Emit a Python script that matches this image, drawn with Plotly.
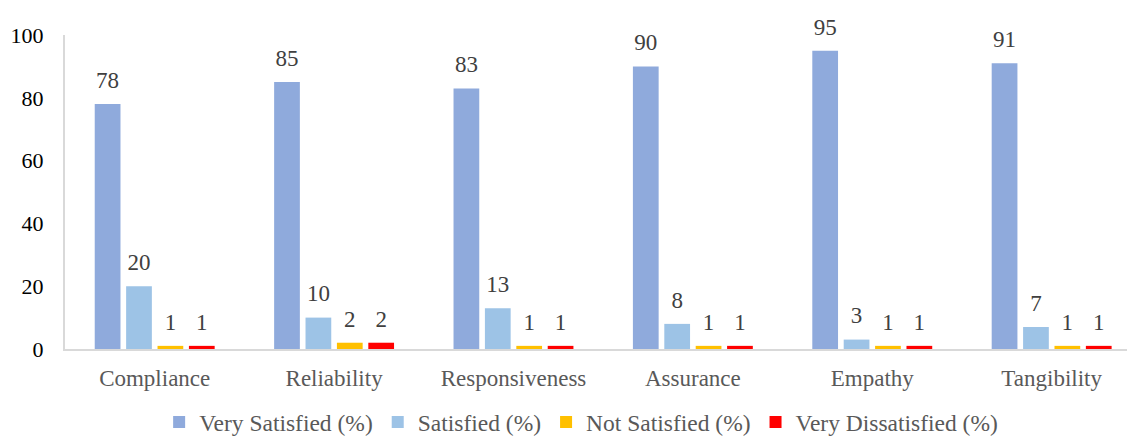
import plotly.graph_objects as go

categories = ["Compliance", "Reliability", "Responsiveness", "Assurance", "Empathy", "Tangibility"]
very_satisfied = [78, 85, 83, 90, 95, 91]
satisfied = [20, 10, 13, 8, 3, 7]
not_satisfied = [1, 2, 1, 1, 1, 1]
very_dissatisfied = [1, 2, 1, 1, 1, 1]

series = [
    ("Very Satisfied (%)", very_satisfied, "#8FAADC"),
    ("Satisfied (%)", satisfied, "#9DC3E6"),
    ("Not Satisfied (%)", not_satisfied, "#FFC000"),
    ("Very Dissatisfied (%)", very_dissatisfied, "#FF0000"),
]

FONT = "Liberation Serif"

fig = go.Figure()
for i, (name, vals, color) in enumerate(series):
    grp = str(i)
    fig.add_trace(go.Bar(
        name=name,
        x=categories,
        y=vals,
        offsetgroup=grp,
        alignmentgroup="all",
        marker=dict(color=color, line=dict(width=0)),
    ))
    # value labels: a transparent marker on each bar top lifts the text above it
    fig.add_trace(go.Scatter(
        x=categories,
        y=vals,
        offsetgroup=grp,
        alignmentgroup="all",
        mode="markers+text",
        marker=dict(size=15, color="rgba(0,0,0,0)"),
        text=[str(v) for v in vals],
        textposition="top center",
        textfont=dict(family=FONT, size=23, color="#404040"),
        cliponaxis=False,
        showlegend=False,
        hoverinfo="skip",
    ))

fig.update_layout(
    width=1129,
    height=439,
    margin=dict(l=65, r=2, t=35, b=90),
    paper_bgcolor="white",
    plot_bgcolor="white",
    barmode="group",
    scattermode="group",
    bargap=0.3,
    bargroupgap=0.18,
    font=dict(family=FONT, size=22, color="#595959"),
    showlegend=True,
    legend=dict(
        orientation="h",
        x=0.486, xanchor="center",
        yref="container",
        y=0.038, yanchor="middle",
        font=dict(family=FONT, size=23.5, color="#595959"),
        itemwidth=30,
        traceorder="normal",
    ),
    xaxis=dict(
        range=[-0.5, 5.42],
        showline=True, linecolor="#D9D9D9", linewidth=2,
        showgrid=False,
        ticks="outside", ticklen=7, tickcolor="rgba(0,0,0,0)",
        tickfont=dict(family=FONT, size=23, color="#595959"),
    ),
    yaxis=dict(
        range=[0, 100], dtick=20,
        showline=True, linecolor="#D9D9D9", linewidth=2,
        showgrid=False, zeroline=False,
        ticks="outside", ticklen=15, tickcolor="rgba(0,0,0,0)",
        tickfont=dict(family=FONT, size=22, color="#000000"),
    ),
)

fig.write_html("out.html")
